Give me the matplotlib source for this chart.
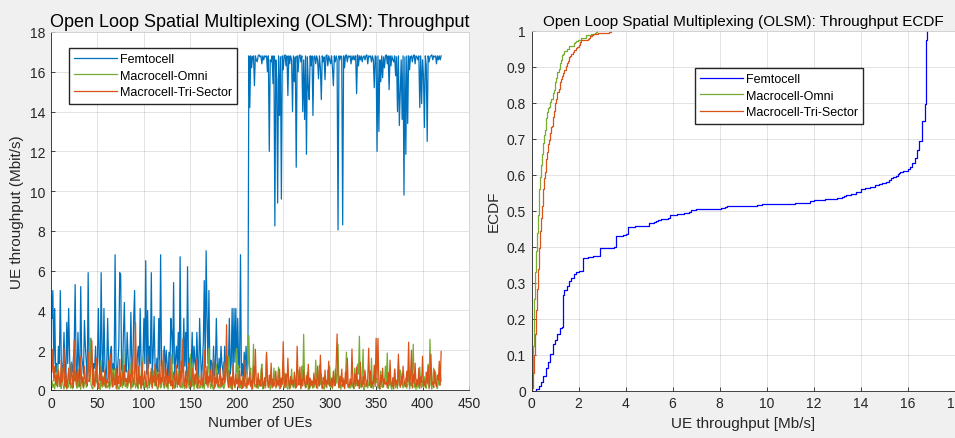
import matplotlib
matplotlib.use("Agg")
import matplotlib.pyplot as plt
import numpy as np

# --- data --------------------------------------------------------------------
LABELS = ["Femtocell", "Macrocell-Omni", "Macrocell-Tri-Sector"]

# femtocell throughput per UE (Mbit/s), UE 1..420
femtocell = [
    3.6, 5.0, 1.3, 4.1, 0.9, 1.33, 0.4, 2.2, 1.33, 5.0,
    1.6, 0.8, 1.33, 2.9, 1.1, 0.6, 3.4, 1.33, 4.1, 1.8,
    0.3, 1.33, 0.9, 1.5, 2.2, 5.3, 1.2, 0.7, 2.9, 1.33,
    0.5, 5.2, 1.7, 1.33, 0.8, 3.5, 2.2, 1.4, 0.2, 5.9,
    1.33, 0.9, 2.6, 1.6, 0.6, 1.33, 1.1, 2.2, 0.4, 1.5,
    4.1, 1.33, 0.7, 5.9, 1.8, 0.9, 4.1, 1.33, 0.3, 1.2,
    3.6, 1.33, 0.8, 1.9, 2.2, 0.5, 1.33, 1.0, 6.8, 1.4,
    0.6, 1.33, 2.2, 5.9, 5.8, 1.1, 0.7, 2.9, 4.4, 1.33,
    0.9, 2.9, 1.6, 0.4, 1.33, 3.9, 1.2, 0.8, 3.6, 5.0,
    1.33, 0.6, 1.7, 2.2, 1.0, 4.1, 1.33, 0.5, 1.5, 3.6,
    1.33, 6.5, 0.8, 4.0, 1.1, 2.2, 1.33, 5.9, 0.7, 1.8,
    3.7, 1.33, 0.4, 1.6, 0.9, 3.6, 1.2, 6.8, 1.33, 0.6,
    1.4, 2.2, 0.8, 2.0, 1.33, 0.3, 1.9, 1.0, 3.6, 2.9,
    1.33, 5.4, 0.6, 1.5, 2.2, 1.1, 2.9, 0.5, 6.7, 1.33,
    0.9, 1.7, 3.6, 1.2, 2.9, 0.7, 6.2, 1.33, 1.6, 0.2,
    1.33, 2.9, 0.8, 2.2, 1.4, 1.0, 2.9, 1.33, 0.6, 3.6,
    1.8, 0.5, 1.33, 2.4, 5.5, 1.1, 7.0, 3.6, 1.33, 5.0,
    0.9, 1.5, 1.33, 0.4, 2.2, 0.7, 1.2, 3.6, 1.33, 0.8,
    1.6, 0.6, 2.2, 1.33, 1.0, 0.5, 2.2, 1.33, 0.9, 1.7,
    1.2, 3.6, 0.8, 1.33, 4.1, 0.6, 4.1, 1.4, 4.1, 0.9,
    3.6, 1.33, 1.1, 6.8, 0.7, 1.33, 0.5, 1.9, 0.9, 2.2,
    0.8, 1.33,
    16.8, 14.2, 16.8, 16.2, 16.75, 16.8, 15.3, 16.8,
    16.6, 16.5, 16.8, 16.85, 16.75, 16.8, 16.4, 16.8, 16.6, 16.8,
    16.75, 16.8, 16.0, 16.8, 12.0, 16.6, 16.5, 16.8, 15.4, 16.8,
    8.25, 16.6, 15.6, 9.4, 16.8, 13.8, 16.75, 9.6, 16.8, 16.1,
    16.8, 16.85, 16.3, 16.8, 14.8, 16.8, 16.4, 16.8, 16.6, 14.0,
    16.8, 15.5, 16.75, 11.2, 16.8, 16.0, 16.8, 16.85, 16.5, 16.8,
    14.0, 16.6, 13.6, 16.8, 11.85, 16.75, 15.2, 14.6, 16.8, 16.3,
    16.8, 13.8, 16.75, 16.8, 16.4, 16.8, 16.6, 15.65, 16.8, 16.2,
    14.6, 16.8, 16.5, 16.75, 15.6, 16.8, 16.85, 16.3, 16.8, 16.6,
    16.4, 16.8, 16.2, 15.3, 16.8, 16.5, 16.8, 16.6, 8.05, 16.8,
    16.6, 16.8, 16.75, 8.3, 16.8, 16.2, 16.8, 16.85, 16.5, 16.8,
    16.75, 16.8, 16.4, 16.8, 16.6, 16.8, 16.6, 16.8, 14.9, 16.85,
    16.3, 16.8, 16.6, 16.8, 16.5, 16.75, 16.8, 16.6, 16.8, 16.85,
    16.4, 16.8, 16.75, 16.8, 16.5, 16.8, 16.6, 15.2, 16.8, 16.75,
    12.0, 16.8, 13.0, 16.6, 15.5, 16.8, 15.7, 16.75, 16.2, 16.8,
    16.85, 16.4, 16.8, 15.1, 16.8, 16.3, 16.8, 16.6, 16.5, 16.8,
    15.8, 16.75, 14.0, 16.8, 13.3, 15.0, 16.6, 13.6, 16.8, 9.8,
    16.75, 11.85, 16.8, 13.4, 16.8, 16.1, 16.75, 16.8, 16.5, 16.8,
    16.85, 16.4, 16.8, 16.75, 16.6, 16.8, 14.2, 16.8, 14.4, 16.6,
    15.8, 13.2, 16.8, 16.3, 12.5, 16.8, 16.5, 16.75, 16.8, 16.85,
    16.6, 16.8, 16.75, 16.8, 16.4, 16.8, 16.6, 16.8, 16.6, 16.8,
]

macro_omni = [
    0.45, 0.12, 0.3, 0.05, 0.6, 0.22, 1.25, 0.9, 0.18, 0.33, 0.08, 1.1, 0.25, 0.04, 0.4, 0.13, 0.55, 0.11, 0.19, 1.3,
    0.1, 0.35, 0.06, 0.2, 0.62, 1.0, 0.28, 0.09, 1.0, 0.15, 0.42, 0.03, 0.75, 0.24, 0.11, 0.31, 0.52, 0.13, 0.4, 1.6,
    0.9, 2.6, 0.3, 0.12, 0.05, 0.45, 0.2, 1.15, 0.58, 0.26, 0.09, 0.33, 0.02, 1.5, 0.13, 0.7, 0.17, 0.38, 0.11, 0.23,
    0.12, 0.4, 0.06, 0.27, 0.6, 1.05, 0.18, 0.32, 1.1, 0.08, 0.5, 0.22, 0.04, 0.13, 0.85, 0.3, 0.12, 1.97, 0.44, 0.16,
    0.34, 0.09, 0.21, 0.65, 1.3, 0.03, 0.47, 0.14, 0.26, 0.78, 0.1, 0.36, 0.19, 0.06, 1.2, 0.55, 0.12, 1.6, 0.29, 0.08,
    0.4, 0.13, 0.25, 0.05, 0.62, 0.11, 0.9, 0.31, 0.17, 1.0, 0.45, 0.23, 1.05, 0.12, 0.02, 0.35, 0.53, 0.1, 0.2, 1.4,
    0.28, 0.09, 0.7, 0.14, 0.33, 0.04, 0.5, 1.2, 0.21, 1.8, 0.1, 0.42, 0.07, 0.26, 0.6, 0.13, 0.95, 0.3, 0.16, 0.11,
    0.37, 0.1, 0.58, 0.06, 0.24, 0.13, 1.15, 0.32, 0.08, 1.8, 0.44, 0.19, 1.35, 0.03, 0.66, 0.27, 0.12, 0.8, 0.35, 0.09,
    0.15, 0.48, 0.1, 0.29, 0.05, 0.6, 1.0, 0.22, 0.9, 2.1, 0.34, 0.08, 0.41, 0.12, 0.02, 0.55, 0.18, 1.3, 0.26, 0.11,
    0.3, 0.09, 0.68, 0.14, 0.38, 0.06, 0.23, 1.0, 1.25, 0.5, 1.7, 0.19, 0.1, 0.33, 0.04, 0.6, 0.25, 0.11, 0.85, 2.1,
    0.45, 1.2, 0.1, 0.27, 0.07, 0.62, 0.13, 0.2, 0.35, 0.09, 0.5, 1.4, 2.75, 0.8, 1.1, 0.03, 0.4, 2.3, 0.16, 0.29,
    0.11, 0.56, 0.08, 0.32, 0.19, 0.95, 1.3, 0.05, 0.42, 0.24, 0.1, 1.8, 0.6, 0.12, 0.34, 0.02, 0.71, 0.22, 0.15, 1.1,
    0.38, 0.09, 0.26, 0.64, 1.15, 0.06, 0.48, 0.17, 0.3, 1.4, 0.1, 0.85, 0.21, 0.13, 0.04, 0.55, 0.33, 0.11, 1.05, 0.25,
    0.12, 0.44, 0.08, 0.7, 0.2, 0.31, 1.0, 0.58, 0.05, 1.2, 0.27, 2.8, 0.4, 0.1, 0.16, 0.9, 0.03, 0.35, 0.11, 0.5,
    0.23, 0.09, 0.62, 0.14, 1.5, 0.36, 0.07, 0.46, 1.25, 0.28, 0.8, 0.1, 0.19, 0.04, 0.54, 0.32, 0.11, 1.0, 0.25, 1.2,
    0.13, 0.4, 0.06, 0.68, 0.21, 1.05, 0.34, 0.9, 2.3, 0.12, 0.5, 0.03, 0.27, 0.17, 0.6, 0.09, 0.43, 1.9, 0.3, 0.11,
    0.24, 0.08, 0.56, 0.13, 0.35, 0.05, 1.1, 0.19, 0.42, 1.3, 0.8, 2.7, 0.28, 0.12, 0.64, 2.05, 0.02, 0.33, 0.15, 0.48,
    0.1, 0.3, 0.72, 0.13, 1.6, 0.22, 0.06, 0.45, 1.1, 0.37, 0.58, 0.09, 0.26, 0.04, 0.95, 0.18, 0.12, 0.52, 0.32, 1.2,
    0.41, 1.86, 0.08, 0.27, 0.62, 0.14, 0.03, 0.35, 0.2, 1.05, 0.11, 0.5, 0.07, 1.4, 0.24, 1.0, 0.78, 0.31, 0.1, 0.44,
    0.16, 0.6, 0.09, 0.29, 1.2, 0.05, 0.4, 0.21, 0.88, 2.3, 0.13, 0.34, 0.02, 0.55, 0.1, 0.25, 1.15, 0.3, 0.11, 0.47,
    0.12, 0.66, 0.2, 0.08, 0.38, 1.3, 0.14, 2.55, 0.27, 0.04, 0.5, 1.1, 0.33, 0.9, 0.18, 0.07, 0.6, 0.24, 1.0, 0.45,
]

macro_tri = [
    0.9, 2.06, 0.45, 1.2, 0.3, 0.75, 0.15, 1.0, 0.55, 0.25, 1.5, 0.4, 0.6, 2.1, 0.2, 0.85, 0.05, 0.5, 1.1, 0.35,
    0.28, 1.4, 0.6, 0.12, 2.5, 0.45, 0.9, 0.22, 1.05, 0.5, 0.18, 1.7, 0.38, 0.65, 0.1, 1.2, 0.55, 0.3, 0.8, 1.9,
    0.42, 0.7, 1.3, 2.48, 0.25, 0.95, 0.15, 0.58, 1.6, 0.33, 0.08, 0.8, 0.48, 1.15, 0.2, 0.62, 0.27, 1.0, 0.12, 0.52,
    0.36, 1.45, 0.22, 1.8, 0.6, 0.14, 0.9, 0.45, 0.26, 1.1, 0.04, 0.7, 0.32, 1.55, 0.18, 0.5, 0.85, 0.24, 1.25, 0.4,
    0.58, 0.2, 1.0, 0.35, 0.78, 0.12, 1.65, 0.46, 0.28, 0.9, 3.4, 0.55, 0.16, 1.2, 0.3, 0.68, 0.06, 1.4, 0.24, 0.5,
    0.95, 0.33, 0.18, 1.75, 0.6, 0.26, 0.45, 1.1, 0.09, 0.72, 0.38, 1.3, 0.2, 0.55, 0.85, 0.14, 1.5, 0.3, 0.62, 0.42,
    2.0, 0.25, 0.5, 1.05, 0.16, 0.7, 0.34, 1.6, 0.22, 0.48, 0.05, 0.9, 0.58, 0.12, 1.25, 0.4, 0.27, 0.8, 0.19, 1.45,
    0.36, 2.57, 0.52, 0.2, 0.95, 0.1, 0.64, 1.35, 0.28, 0.45, 0.15, 1.1, 0.55, 0.23, 0.8, 0.33, 1.55, 0.07, 0.6, 0.4,
    0.26, 0.9, 0.45, 0.18, 2.0, 0.56, 0.3, 1.2, 0.13, 0.7, 0.38, 1.0, 0.22, 0.5, 1.6, 0.09, 0.62, 0.34, 0.85, 0.2,
    0.44, 1.1, 0.16, 0.58, 0.27, 1.4, 0.35, 0.75, 3.28, 0.5, 0.12, 0.95, 0.24, 0.66, 0.04, 1.25, 0.4, 0.2, 0.8, 0.3,
    0.55, 0.14, 1.0, 0.28, 0.45, 0.08, 0.7, 0.22, 1.5, 0.36, 0.1, 0.6, 0.25, 0.9, 0.17, 0.48, 0.05, 1.2, 0.3, 2.05,
    0.4, 0.12, 0.85, 0.26, 0.5, 0.19, 1.1, 0.32, 0.07, 0.62, 0.23, 1.9, 0.44, 0.15, 0.75, 0.28, 1.35, 0.1, 0.55, 0.2,
    0.34, 0.95, 0.16, 0.48, 0.24, 1.05, 0.09, 0.6, 0.3, 2.43, 0.42, 0.13, 0.8, 0.21, 1.6, 0.37, 0.06, 0.68, 0.27, 0.5,
    0.18, 0.9, 0.33, 0.12, 2.2, 0.46, 0.25, 1.15, 0.08, 0.56, 0.2, 1.0, 0.38, 0.14, 0.72, 0.29, 1.3, 0.04, 0.6, 0.22,
    0.45, 0.16, 0.85, 0.27, 0.52, 0.1, 1.2, 0.35, 0.2, 1.75, 0.42, 0.07, 0.64, 0.24, 1.0, 0.15, 0.5, 0.3, 1.45, 0.19,
    0.28, 0.6, 0.13, 0.95, 0.36, 0.22, 1.3, 2.82, 0.4, 0.11, 0.7, 0.25, 1.05, 0.18, 0.48, 0.06, 0.9, 0.32, 1.6, 0.2,
    0.14, 0.55, 0.26, 2.06, 0.38, 0.1, 0.82, 0.3, 1.15, 0.21, 0.5, 0.08, 1.4, 0.35, 0.16, 0.68, 0.27, 1.0, 0.44, 0.19,
    0.6, 2.1, 0.23, 0.95, 0.12, 0.42, 0.3, 1.25, 0.18, 2.6, 0.5, 2.6, 0.26, 0.07, 0.75, 0.36, 1.1, 0.15, 0.55, 0.29,
    0.4, 0.11, 0.88, 0.25, 1.5, 0.33, 0.17, 0.62, 0.05, 1.05, 0.28, 0.46, 0.2, 1.8, 0.38, 0.13, 0.7, 0.24, 1.2, 0.52,
    0.3, 0.16, 0.95, 0.42, 2.4, 0.22, 0.6, 2.0, 0.1, 0.8, 0.34, 1.35, 0.19, 0.5, 0.27, 1.1, 0.08, 0.66, 0.37, 1.7,
    0.21, 0.45, 0.14, 0.9, 0.32, 1.2, 0.06, 0.58, 1.8, 0.26, 0.4, 0.12, 1.0, 0.35, 0.18, 0.75, 0.5, 1.45, 0.24, 1.94,
]

LEFT_COLORS = ["#0072BD", "#77AC30", "#D95319"]
RIGHT_COLORS = ["#0000FF", "#77AC30", "#D95319"]
AX_COLOR = "#262626"

plt.rcParams.update({
    "font.family": ["Liberation Sans", "DejaVu Sans"],
    "font.size": 10,
    "axes.edgecolor": AX_COLOR,
    "axes.linewidth": 0.6,
    "xtick.color": AX_COLOR,
    "ytick.color": AX_COLOR,
    "xtick.direction": "in",
    "ytick.direction": "in",
    "xtick.major.size": 3,
    "ytick.major.size": 3,
    "xtick.major.width": 0.6,
    "ytick.major.width": 0.6,
    "xtick.labelsize": 10,
    "ytick.labelsize": 10,
})


def _style(ax):
    ax.grid(True, color=AX_COLOR, alpha=0.15, lw=0.6)
    ax.set_axisbelow(True)
    ax.tick_params(top=False, right=False, pad=4)
    for side in ["top", "right"]:
        ax.spines[side].set_color("#D0D0D0")


def _ecdf(values):
    xs = np.sort(np.asarray(values, dtype=float))
    ys = np.arange(1, len(xs) + 1) / len(xs)
    return np.r_[xs[0], xs], np.r_[0.0, ys]


def _legend(ax, x_px, y_px):
    ax.legend(loc="upper left", bbox_to_anchor=(x_px / 955, 1 - y_px / 439), bbox_transform=fig.transFigure,
              fontsize=9, frameon=True, fancybox=False, edgecolor=AX_COLOR, framealpha=1,
              handlelength=3.4, handletextpad=0.3, borderpad=0.4, labelspacing=0.38, borderaxespad=0)


series = [femtocell, macro_omni, macro_tri]
ue = np.arange(1, len(femtocell) + 1)

fig = plt.figure(figsize=(9.55, 4.39), dpi=100, facecolor="#F0F0F0")
ax1 = fig.add_axes([51 / 955, 1 - 391 / 439, 418 / 955, 358 / 439])
ax2 = fig.add_axes([531.5 / 955, 1 - 391.5 / 439, 423 / 955, 359.5 / 439])

for vals, lab, col in zip(series, LABELS, LEFT_COLORS):
    ax1.plot(ue, vals, color=col, lw=0.9, label=lab)
ax1.set_xlim(0, 450)
ax1.set_ylim(0, 18)
ax1.set_xticks(np.arange(0, 451, 50))
ax1.set_yticks(np.arange(0, 19, 2))
ax1.set_xlabel("Number of UEs", fontsize=11, color=AX_COLOR)
ax1.set_ylabel("UE throughput (Mbit/s)", fontsize=11, color=AX_COLOR)
ax1.set_title("Open Loop Spatial Multiplexing (OLSM): Throughput", fontsize=13, pad=4)
_style(ax1)
_legend(ax1, 69, 49)

for vals, lab, col in zip(series, LABELS, RIGHT_COLORS):
    ex, ey = _ecdf(vals)
    ax2.step(ex, ey, where="post", color=col, lw=0.9, label=lab)
ax2.set_xlim(0, 18)
ax2.set_ylim(0, 1)
ax2.set_xticks(np.arange(0, 19, 2))
ax2.set_yticks(np.arange(0, 1.01, 0.1))
ax2.yaxis.set_major_formatter(matplotlib.ticker.FuncFormatter(lambda v, p: f"{v:g}"))
ax2.set_xlabel("UE throughput [Mb/s]", fontsize=11, color=AX_COLOR)
ax2.set_ylabel("ECDF", fontsize=11, color=AX_COLOR)
ax2.set_title("Open Loop Spatial Multiplexing (OLSM): Throughput ECDF", fontsize=11, pad=4)
_style(ax2)
_legend(ax2, 695, 69)

fig.savefig("out.png", dpi=100, facecolor=fig.get_facecolor())
